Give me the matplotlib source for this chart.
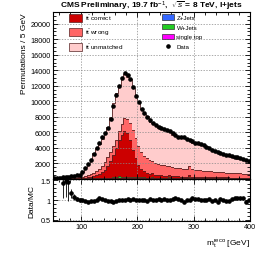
import numpy as np
import matplotlib
matplotlib.use("Agg")
import matplotlib.pyplot as plt
from matplotlib.patches import Patch
from matplotlib.lines import Line2D
from matplotlib.ticker import MultipleLocator

plt.rcParams['font.family'] = ['Liberation Sans', 'DejaVu Sans']
plt.rcParams['mathtext.fontset'] = 'custom'
plt.rcParams['mathtext.rm'] = 'Liberation Sans'
plt.rcParams['mathtext.it'] = 'Liberation Sans:italic'

# 5 GeV bins, 50-400 GeV
edges = np.arange(50, 401, 5)

data = [120, 140, 170, 200, 240, 290, 340, 400, 460, 560,
        950, 1450, 1950, 2500, 3250, 4000, 4700, 5350, 5900, 6600,
        7700, 9400, 10800, 12000, 13000, 13700, 13400, 12900, 11900, 10700,
        9900, 9000, 8450, 8000, 7550, 7200, 6950, 6750, 6600, 6400,
        6250, 6150, 5900, 5700, 5450, 5420, 5350, 5150, 5000, 4850,
        4700, 4600, 4450, 4320, 4150, 3950, 3800, 3600, 3500, 3350,
        3250, 3150, 3050, 2950, 2850, 2800, 2650, 2550, 2400, 2300]

ratio = [1.8, 1.75, 1.7, 1.42, 1.48, 1.45, 1.17, 1.08, 1.03, 1.0,
         0.99, 0.97, 0.96, 0.97, 0.98, 1.0, 1.05, 1.03, 1.0, 0.98,
         0.97, 0.96, 0.97, 0.99, 1.0, 1.01, 1.02, 1.0, 1.02, 1.01,
         0.99, 1.0, 1.01, 0.98, 1.02, 1.0, 0.99, 1.03, 1.01, 1.02,
         0.99, 1.0, 1.03, 1.04, 1.02, 1.0, 0.96, 1.01, 1.0, 1.05,
         1.03, 1.02, 1.01, 1.0, 0.99, 1.02, 0.98, 1.01, 0.96, 1.02,
         1.01, 0.97, 0.98, 1.03, 1.05, 1.06, 1.05, 1.04, 0.94, 1.01]

ratio_err = [0.1, 0.1, 0.1, 0.37, 0.4, 0.48, 0.12, 0.07, 0.05, 0.04,
             0.03, 0.02, 0.02, 0.02, 0.02, 0.02, 0.02, 0.02, 0.02, 0.02,
             0.02, 0.02, 0.02, 0.02, 0.02, 0.02, 0.02, 0.02, 0.02, 0.02,
             0.02, 0.02, 0.02, 0.02, 0.02, 0.02, 0.02, 0.02, 0.02, 0.02,
             0.02, 0.02, 0.02, 0.02, 0.02, 0.02, 0.02, 0.02, 0.02, 0.02,
             0.02, 0.02, 0.02, 0.02, 0.02, 0.02, 0.02, 0.02, 0.02, 0.02,
             0.02, 0.02, 0.02, 0.02, 0.02, 0.02, 0.02, 0.02, 0.02, 0.02]

correct = [0, 0, 0, 2, 5, 8, 12, 18, 26, 38,
           55, 80, 120, 180, 260, 370, 520, 720, 1000, 1450,
           2150, 2950, 3800, 4650, 5450, 5950, 5650, 4750, 3550, 2450,
           1650, 1120, 820, 620, 500, 420, 360, 320, 285, 255,
           230, 210, 195, 185, 175, 168, 162, 156, 150, 145,
           140, 135, 130, 126, 122, 118, 114, 110, 107, 104,
           101, 98, 95, 92, 90, 88, 86, 84, 82, 80]

wrong = [10, 12, 15, 20, 28, 38, 50, 65, 85, 110,
         150, 200, 260, 330, 420, 520, 650, 800, 1000, 1150,
         1150, 1100, 1050, 1200, 1450, 1650, 1850, 2250, 2550, 2550,
         2450, 2200, 2000, 1850, 1750, 1650, 1550, 1450, 1380, 1320,
         1250, 1220, 1190, 1140, 1100, 1060, 1020, 1000, 1150, 1050,
         910, 870, 840, 800, 780, 760, 735, 710, 690, 665,
         650, 625, 600, 585, 570, 555, 540, 525, 510, 495]

single_top = [5, 6, 8, 10, 12, 15, 20, 25, 30, 38,
              45, 55, 65, 75, 85, 95, 105, 112, 120, 128,
              135, 142, 148, 152, 156, 158, 156, 152, 148, 144,
              140, 136, 132, 129, 126, 123, 120, 118, 116, 114,
              112, 110, 108, 106, 104, 102, 100, 98, 97, 96,
              95, 94, 92, 90, 88, 86, 84, 82, 80, 78,
              76, 74, 72, 70, 68, 66, 64, 62, 60, 58]

wjets = [2, 2, 3, 4, 5, 6, 8, 10, 12, 15,
         18, 20, 25, 28, 30, 35, 38, 40, 45, 48,
         50, 55, 60, 180, 65, 70, 70, 68, 66, 64,
         60, 58, 56, 55, 54, 170, 52, 50, 48, 47,
         46, 140, 45, 44, 43, 42, 41, 40, 220, 40,
         39, 38, 37, 36, 35, 34, 33, 32, 31, 30,
         30, 29, 28, 28, 27, 27, 26, 26, 25, 25]

zjets = [1, 1, 1, 1, 2, 2, 2, 3, 3, 4,
         4, 5, 5, 6, 6, 7, 7, 8, 8, 9,
         9, 10, 10, 10, 11, 11, 11, 11, 10, 10,
         10, 10, 10, 9, 9, 9, 9, 9, 8, 8,
         8, 8, 8, 8, 7, 7, 7, 7, 7, 7,
         6, 6, 6, 6, 6, 6, 6, 5, 5, 5,
         5, 5, 5, 5, 5, 4, 4, 4, 4, 4]

data = np.array(data, float)
ratio = np.array(ratio)
centers = 0.5 * (edges[1:] + edges[:-1])

# total MC follows from data and the Data/MC ratio; unmatched is what is left on top
mc_total = data / ratio
others = np.array(single_top) + np.array(zjets) + np.array(wjets) + np.array(correct) + np.array(wrong)
unmatched = mc_total - others

fig = plt.figure(figsize=(2.66, 2.55), dpi=100)
ax = fig.add_axes([0.199, 0.294, 0.741, 0.655])
axr = fig.add_axes([0.199, 0.129, 0.741, 0.165], sharex=ax)

stack = [(single_top, '#ff00ff'), (zjets, '#3366ff'), (wjets, '#22cc22'),
         (correct, '#cc0000'), (wrong, '#ff6666'), (unmatched, '#ffcccc')]
base = np.zeros(len(centers))
for vals, col in stack:
    top = base + np.array(vals, float)
    ax.stairs(top, edges, baseline=base, fill=True, color=col, lw=0)
    ax.stairs(top, edges, baseline=None, color='#552222', lw=0.6)
    base = top

ax.plot(centers, data, 'o', color='k', ms=2.3, zorder=5)

ax.set_xlim(50, 400)
ax.set_ylim(0, 21500)
ax.set_yticks(np.arange(2000, 20001, 2000))
ax.yaxis.set_minor_locator(MultipleLocator(500))
ax.xaxis.set_major_locator(MultipleLocator(100))
ax.xaxis.set_minor_locator(MultipleLocator(20))
ax.grid(True, which='major', ls=(0, (2, 2)), color='#888888', lw=0.5)
ax.tick_params(labelbottom=False)
ax.set_ylabel('Permutations / 5 GeV', fontsize=6, loc='top', labelpad=2)
ax.set_title(r'CMS Preliminary, 19.7 fb$^{-1}$,  $\sqrt{s}$ = 8 TeV, l+jets',
             fontsize=6, fontweight='bold', pad=1.5)

axr.errorbar(centers, ratio, yerr=ratio_err, fmt='o', color='k', ms=2.3,
             elinewidth=0.6, capsize=0)
axr.set_ylim(0.47, 1.53)
axr.set_yticks([0.5, 1, 1.5])
axr.set_yticklabels(['0.5', '1', '1.5'])
axr.yaxis.set_minor_locator(MultipleLocator(0.1))
axr.grid(True, which='major', ls=(0, (2, 2)), color='#888888', lw=0.5)
axr.set_ylabel('Data/MC', fontsize=6, labelpad=4)
axr.set_xlabel(r'm$_{\rm t}^{\rm reco}$ [GeV]', fontsize=6, loc='right', labelpad=5)

for a in (ax, axr):
    a.tick_params(which='both', direction='in', top=True, right=True, labelsize=5.2, width=0.6, pad=1.5)
    a.tick_params(which='major', length=3.5)
    a.tick_params(which='minor', length=2)
    for s in a.spines.values():
        s.set_linewidth(0.8)

h1 = [Patch(facecolor='#cc0000', edgecolor='#552222', lw=0.5),
      Patch(facecolor='#ff6666', edgecolor='#552222', lw=0.5),
      Patch(facecolor='#ffcccc', edgecolor='#552222', lw=0.5)]
l1 = [r'$\mathrm{t\bar{t}}$ correct', r'$\mathrm{t\bar{t}}$ wrong', r'$\mathrm{t\bar{t}}$ unmatched']
leg1 = ax.legend(h1, l1, loc='upper left', bbox_to_anchor=(0.07, 1.01), frameon=False,
                 fontsize=4.6, handlelength=2.0, handleheight=1.5, labelspacing=0.75,
                 handletextpad=0.4, borderaxespad=0)
ax.add_artist(leg1)

h2 = [Patch(facecolor='#3366ff', edgecolor='#333333', lw=0.5),
      Patch(facecolor='#22cc22', edgecolor='#333333', lw=0.5),
      Patch(facecolor='#ff00ff', edgecolor='#333333', lw=0.5),
      Line2D([], [], marker='o', ls='none', color='k', ms=2.3)]
l2 = ['Z+Jets', 'W+Jets', 'single top', 'Data']
ax.legend(h2, l2, loc='upper left', bbox_to_anchor=(0.54, 1.0), frameon=False,
          fontsize=4.4, handlelength=2.0, handleheight=0.9, labelspacing=0.65,
          handletextpad=0.4, borderaxespad=0)

fig.savefig('out.png', dpi=100)
